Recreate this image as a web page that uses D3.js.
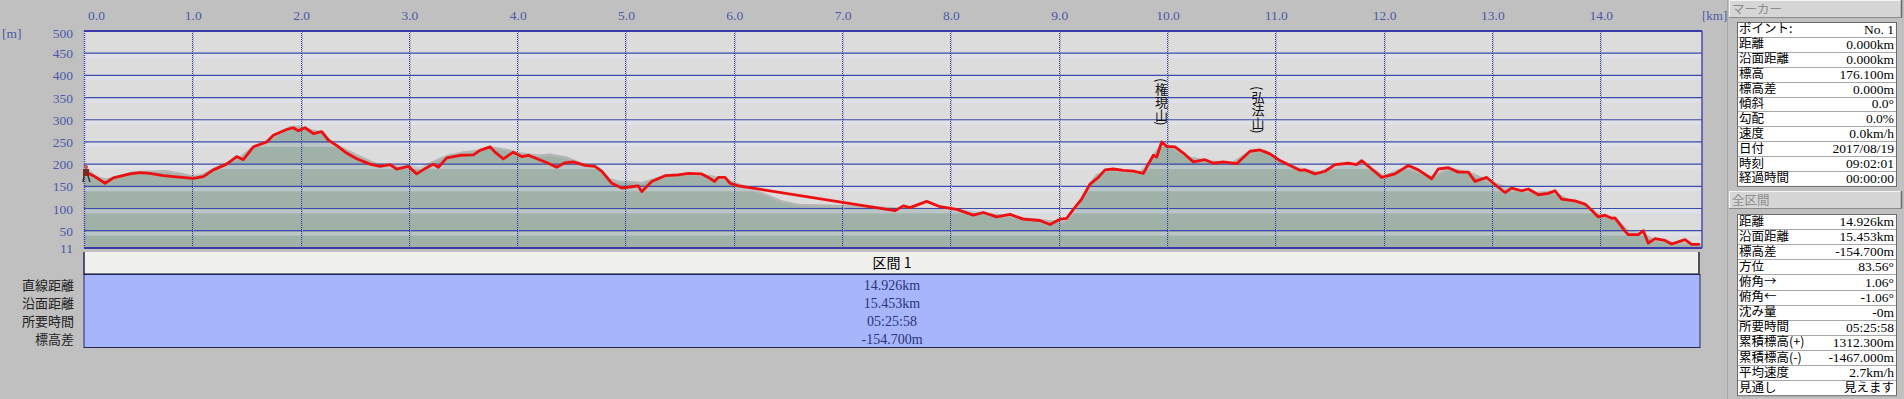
<!DOCTYPE html>
<html>
<head>
<meta charset="utf-8">
<script src="https://cdn.jsdelivr.net/npm/d3@7"></script>
<style>
body { margin: 0; background: #c0c0c0; overflow: hidden; }
svg text { font-family: "Liberation Serif", serif; }
svg text.jp { font-family: "Noto Sans CJK JP", sans-serif; }
</style>
</head>
<body>
<svg id="chart" width="1904" height="399"></svg>
<script>
// GPS track: [km, m]
var gpsTrack = [
  [0.0,180],[0.009,183],[0.086,174],[0.194,157],[0.271,169],[0.425,178],[0.517,181],[0.609,179],
  [0.733,174],[0.825,172],[1.009,168],[1.102,172],[1.194,187],[1.317,200],[1.410,217],[1.471,210],
  [1.564,239],[1.687,250],[1.748,265],[1.871,278],[1.933,282],[1.979,275],[2.041,282],[2.118,269],
  [2.195,273],[2.256,254],[2.333,242],[2.425,225],[2.518,212],[2.641,200],[2.733,195],[2.826,199],
  [2.887,189],[2.995,195],[3.072,178],[3.164,192],[3.226,200],[3.272,193],[3.349,214],[3.472,220],
  [3.595,221],[3.656,231],[3.749,239],[3.795,227],[3.872,212],[3.964,227],[4.041,217],[4.103,220],
  [4.195,211],[4.287,202],[4.364,193],[4.441,203],[4.518,205],[4.626,197],[4.718,195],[4.780,184],
  [4.872,157],[4.965,146],[5.057,149],[5.118,151],[5.149,138],[5.242,161],[5.365,174],[5.488,176],
  [5.580,179],[5.703,178],[5.765,170],[5.820,161],[5.857,170],[5.919,170],[5.965,157],[6.042,151],
  [7.488,95],[7.565,106],[7.627,102],[7.781,116],[7.904,104],[8.058,98],[8.212,85],[8.304,91],
  [8.427,81],[8.550,87],[8.673,76],[8.827,73],[8.920,64],[9.012,76],[9.074,78],[9.135,98],
  [9.212,121],[9.289,155],[9.366,170],[9.428,187],[9.505,189],[9.597,186],[9.689,184],[9.782,179],
  [9.828,200],[9.874,220],[9.905,216],[9.951,250],[9.997,240],[10.074,239],[10.151,225],[10.243,205],
  [10.351,210],[10.428,202],[10.520,205],[10.643,201],[10.766,229],[10.859,232],[10.951,223],[11.043,208],
  [11.136,197],[11.228,186],[11.274,187],[11.367,178],[11.459,184],[11.551,199],[11.674,202],[11.751,199],
  [11.797,208],[11.890,189],[11.982,170],[12.105,178],[12.228,197],[12.321,187],[12.444,167],[12.505,189],
  [12.598,192],[12.690,182],[12.782,182],[12.844,161],[12.952,170],[13.029,154],[13.121,136],[13.182,146],
  [13.275,140],[13.336,144],[13.429,131],[13.521,134],[13.583,140],[13.644,121],[13.767,117],[13.860,110],
  [13.921,96],[13.982,81],[14.044,85],[14.106,78],[14.136,79],[14.229,49],[14.260,41],[14.352,41],
  [14.398,50],[14.444,22],[14.506,32],[14.598,28],[14.660,20],[14.783,30],[14.844,19],[14.921,19]
];

// terrain profile under the track: [km, m]
var terrain = [
  [0.0,195],[0.1,172],[0.2,165],[0.3,171],[0.45,181],[0.6,183],[0.75,184],[0.9,178],[1.0,172],
  [1.1,176],[1.2,190],[1.35,205],[1.45,216],[1.55,236],[1.7,253],[1.8,268],[1.9,283],[2.0,284],
  [2.1,276],[2.2,272],[2.3,246],[2.5,222],[2.7,200],[2.9,196],[3.0,197],[3.1,190],[3.2,202],
  [3.35,218],[3.5,226],[3.65,230],[3.75,238],[3.9,232],[4.0,225],[4.1,222],[4.2,219],[4.3,221],
  [4.45,215],[4.6,200],[4.75,190],[4.85,166],[4.95,160],[5.05,160],[5.15,157],[5.25,165],[5.4,175],
  [5.6,178],[5.8,172],[5.95,162],[6.1,150],[6.3,130],[6.45,115],[6.6,108],[6.8,107],[7.0,105],
  [7.3,103],[7.5,100],[7.8,99],[8.0,97],[8.3,90],[8.6,80],[8.9,72],[9.05,70],[9.15,95],
  [9.25,140],[9.35,175],[9.45,185],[9.6,184],[9.75,180],[9.85,210],[9.95,245],[10.05,237],
  [10.2,215],[10.4,206],[10.6,202],[10.75,226],[10.9,230],[11.05,207],[11.2,192],[11.4,180],
  [11.6,197],[11.75,200],[11.9,188],[12.0,172],[12.2,192],[12.45,170],[12.6,190],[12.8,180],
  [13.0,158],[13.2,143],[13.4,135],[13.55,138],[13.7,120],[13.85,110],[14.0,85],[14.15,75],
  [14.25,50],[14.4,42],[14.5,28],[14.7,22],[14.94,18]
];

var xTicks = [0,1,2,3,4,5,6,7,8,9,10,11,12,13,14];
var yTicks = [500,450,400,350,300,250,200,150,100,50,11];

var peaks = [
  { km: 9.95, ele: 250, name: "(権現山)" },
  { km: 10.84, ele: 232, name: "(弘法山)" }
];

var sectionName = "区間 1";
var sectionLabels = ["直線距離", "沿面距離", "所要時間", "標高差"];
var sectionValues = ["14.926km", "15.453km", "05:25:58", "-154.700m"];

var markerLabels = ["ポイント:", "距離", "沿面距離", "標高", "標高差", "傾斜", "勾配", "速度", "日付", "時刻", "経過時間"];
var markerValues = ["No. 1", "0.000km", "0.000km", "176.100m", "0.000m", "0.0°", "0.0%", "0.0km/h", "2017/08/19", "09:02:01", "00:00:00"];

var totalLabels = ["距離", "沿面距離", "標高差", "方位", "俯角→", "俯角←", "沈み量", "所要時間", "累積標高(+)", "累積標高(-)", "平均速度", "見通し"];
var totalValues = ["14.926km", "15.453km", "-154.700m", "83.56°", "1.06°", "-1.06°", "-0m", "05:25:58", "1312.300m", "-1467.000m", "2.7km/h", "見えます"];

var svg = d3.select('#chart');

var plotL = 84, plotR = 1702, plotT = 31, plotB = 248;
var x = d3.scaleLinear().domain([0, 14.94]).range([plotL, plotR]);
var y = d3.scaleLinear().domain([11, 500]).range([plotB, plotT]);

// plot background
svg.append('rect').attr('x', plotL).attr('y', plotT)
  .attr('width', plotR - plotL).attr('height', plotB - plotT).attr('fill', '#dcdcdc');

// terrain area
var area = d3.area().x(function(d) { return x(d[0]); }).y0(plotB).y1(function(d) { return y(d[1]); });
var line = d3.line().x(function(d) { return x(d[0]); }).y(function(d) { return y(d[1]); });

svg.append('path').datum(terrain).attr('d', area).attr('fill', '#a0b1a8');
svg.append('path').datum(terrain).attr('d', line)
  .attr('fill', 'none').attr('stroke', '#b4b6b4').attr('stroke-width', 2.5);

var inner = yTicks.filter(function(t) { return t !== 11 && t !== 500; });

// light bands under grid lines
svg.append('g').selectAll('rect')
  .data(inner)
  .join('rect')
  .attr('x', plotL).attr('width', plotR - plotL)
  .attr('y', function(d) { return y(d) + 1; }).attr('height', 4)
  .attr('fill', '#e8ecff').attr('opacity', 0.35);

// horizontal grid
svg.append('g').selectAll('line')
  .data(inner)
  .join('line')
  .attr('x1', plotL).attr('x2', plotR)
  .attr('y1', function(d) { return y(d); }).attr('y2', function(d) { return y(d); })
  .attr('stroke', '#3c4cac').attr('stroke-width', 1.2);

// vertical dotted grid
var vg = svg.append('g');
vg.selectAll('line.a')
  .data(xTicks.filter(function(t) { return t > 0; }))
  .join('line').attr('class', 'a')
  .attr('x1', function(d) { return Math.round(x(d)) + 0.5; }).attr('x2', function(d) { return Math.round(x(d)) + 0.5; })
  .attr('y1', plotT).attr('y2', plotB)
  .attr('stroke', '#2a3a9c').attr('stroke-width', 1).attr('stroke-dasharray', '1,1');
vg.selectAll('line.b')
  .data(xTicks.filter(function(t) { return t > 0; }))
  .join('line').attr('class', 'b')
  .attr('x1', function(d) { return Math.round(x(d)) + 1.5; }).attr('x2', function(d) { return Math.round(x(d)) + 1.5; })
  .attr('y1', plotT).attr('y2', plotB)
  .attr('stroke', '#9a9aa8').attr('stroke-width', 1).attr('stroke-dasharray', '1,1')
  .attr('stroke-dashoffset', 1);

// GPS track
svg.append('path').datum(gpsTrack).attr('d', line)
  .attr('fill', 'none').attr('stroke', '#ee1010').attr('stroke-width', 2.8)
  .attr('stroke-linejoin', 'round');

// frame
svg.append('line').attr('x1', plotL).attr('x2', plotR).attr('y1', plotT).attr('y2', plotT)
  .attr('stroke', '#3a3aa8').attr('stroke-width', 2);
svg.append('line').attr('x1', plotL).attr('x2', plotR).attr('y1', plotB).attr('y2', plotB)
  .attr('stroke', '#3a3aa8').attr('stroke-width', 2);
svg.append('line').attr('x1', plotR).attr('x2', plotR).attr('y1', plotT).attr('y2', plotB)
  .attr('stroke', '#4a4ab0').attr('stroke-width', 1.5);
svg.append('line').attr('x1', plotL + 0.5).attr('x2', plotL + 0.5).attr('y1', plotT).attr('y2', plotB)
  .attr('stroke', '#3a3ac0').attr('stroke-width', 1.5).attr('stroke-dasharray', '1,1');

// start marker (hiker)
var hk = svg.append('g').attr('transform', 'translate(' + x(0) + ',' + y(gpsTrack[0][1]) + ')');
hk.append('circle').attr('cx', 2).attr('cy', -6).attr('r', 2).attr('fill', '#c85050');
hk.append('rect').attr('x', -1).attr('y', -4).attr('width', 6).attr('height', 7).attr('fill', '#7a2a20');
hk.append('line').attr('x1', 0).attr('y1', 3).attr('x2', -1).attr('y2', 9).attr('stroke', '#3a3030').attr('stroke-width', 1.5);
hk.append('line').attr('x1', 4).attr('y1', 3).attr('x2', 6).attr('y2', 9).attr('stroke', '#3a3030').attr('stroke-width', 1.5);

// x axis labels on top
svg.append('g').selectAll('text')
  .data(xTicks)
  .join('text')
  .attr('x', function(d) { return d === 0 ? x(d) + 4 : x(d) + 1; })
  .attr('y', 20)
  .attr('text-anchor', function(d) { return d === 0 ? 'start' : 'middle'; })
  .attr('font-size', 13.5).attr('fill', '#4a5aa8')
  .text(function(d) { return d3.format('.1f')(d); });
svg.append('text').attr('x', 1702).attr('y', 20).attr('font-size', 13).attr('fill', '#4a5aa8').text('[km]');

// y axis labels
svg.append('g').selectAll('text')
  .data(yTicks)
  .join('text')
  .attr('x', 73)
  .attr('y', function(d) { return (d === 500 ? y(d) + 2 : y(d)) + 5; })
  .attr('text-anchor', 'end')
  .attr('font-size', 13.5).attr('fill', '#4a5aa8')
  .text(function(d) { return d; });
svg.append('text').attr('x', 2).attr('y', 38).attr('font-size', 13.5).attr('fill', '#4a5aa8').text('[m]');

// peak labels (vertical text)
svg.append('g').selectAll('text')
  .data(peaks)
  .join('text').attr('class', 'jp')
  .attr('x', function(d) { return x(d.km); })
  .attr('y', function(d) { return y(d.ele) - 64; })
  .style('writing-mode', 'vertical-rl')
  .attr('font-size', 13).attr('fill', '#111')
  .text(function(d) { return d.name; });

// section band
var secRight = 1700;
svg.append('rect').attr('x', plotL).attr('y', 252).attr('width', secRight - plotL).attr('height', 22)
  .attr('fill', '#f0f0ee');
svg.append('line').attr('x1', plotL).attr('x2', secRight).attr('y1', 273.5).attr('y2', 273.5)
  .attr('stroke', '#7a7a80').attr('stroke-width', 1);
svg.append('line').attr('x1', secRight - 1).attr('x2', secRight - 1).attr('y1', 252).attr('y2', 274)
  .attr('stroke', '#505050').attr('stroke-width', 2);
svg.append('text').attr('class', 'jp').attr('x', (plotL + secRight) / 2).attr('y', 268)
  .attr('text-anchor', 'middle').attr('font-size', 14).attr('fill', '#000').text(sectionName);

// section info (blue)
svg.append('rect').attr('x', plotL).attr('y', 274.5).attr('width', secRight - plotL).attr('height', 73)
  .attr('fill', '#a7b5fb').attr('stroke', '#25255a').attr('stroke-width', 1);
svg.append('line').attr('x1', plotL).attr('x2', plotL).attr('y1', 252).attr('y2', 275)
  .attr('stroke', '#25255a').attr('stroke-width', 1.5);

svg.append('g').selectAll('text')
  .data(sectionValues)
  .join('text')
  .attr('x', (plotL + secRight) / 2).attr('y', function(d, i) { return 290 + i * 18; })
  .attr('text-anchor', 'middle').attr('font-size', 14).attr('fill', '#2c3478')
  .text(function(d) { return d; });

svg.append('g').selectAll('text')
  .data(sectionLabels)
  .join('text').attr('class', 'jp')
  .attr('x', 74).attr('y', function(d, i) { return 290 + i * 18; })
  .attr('text-anchor', 'end').attr('font-size', 13).attr('fill', '#222')
  .text(function(d) { return d; });

// right panel
function header(yTop, label) {
  svg.append('rect').attr('x', 1729.5).attr('y', yTop + 0.5).attr('width', 172).attr('height', 17)
    .attr('fill', '#d6d6d6').attr('stroke', '#f4f4f4');
  svg.append('line').attr('x1', 1901.5).attr('x2', 1901.5).attr('y1', yTop).attr('y2', yTop + 18)
    .attr('stroke', '#6a6a6a').attr('stroke-width', 1.5);
  svg.append('line').attr('x1', 1729).attr('x2', 1902).attr('y1', yTop + 17.5).attr('y2', yTop + 17.5)
    .attr('stroke', '#8a8a8a');
  svg.append('text').attr('class', 'jp').attr('x', 1732).attr('y', yTop + 14)
    .attr('font-size', 12.5).attr('fill', '#8c8c8c').text(label);
}

function table(yTop, rowH, labels, values) {
  var g = svg.append('g');
  g.append('rect').attr('x', 1737.5).attr('y', yTop + 0.5).attr('width', 159).attr('height', rowH * labels.length)
    .attr('fill', '#ffffff').attr('stroke', '#6a6a6a');
  g.selectAll('line')
    .data(labels.slice(1))
    .join('line')
    .attr('x1', 1738).attr('x2', 1896)
    .attr('y1', function(d, i) { return Math.round(yTop + (i + 1) * rowH) + 0.5; })
    .attr('y2', function(d, i) { return Math.round(yTop + (i + 1) * rowH) + 0.5; })
    .attr('stroke', '#a8a8a8');
  g.selectAll('text.l')
    .data(labels)
    .join('text').attr('class', 'l jp')
    .attr('x', 1739).attr('y', function(d, i) { return yTop + i * rowH + rowH - 3.5; })
    .attr('font-size', 12.5).attr('fill', '#000')
    .text(function(d) { return d; });
  g.selectAll('text.v')
    .data(values)
    .join('text')
    .attr('class', function(d) { return /[ぁ-ん]/.test(d) ? 'v jp' : 'v'; })
    .attr('x', 1894).attr('y', function(d, i) { return yTop + i * rowH + rowH - 3; })
    .attr('text-anchor', 'end').attr('font-size', function(d) { return /[ぁ-ん]/.test(d) ? 12.5 : 13.5; })
    .attr('fill', '#000')
    .text(function(d) { return d; });
}

svg.append('line').attr('x1', 1727.5).attr('x2', 1727.5).attr('y1', 0).attr('y2', 399)
  .attr('stroke', '#a8a8a8');

header(0, 'マーカー');
table(22, 14.9, markerLabels, markerValues);
header(191, '全区間');
table(214, 15.1, totalLabels, totalValues);
</script>
</body>
</html>
